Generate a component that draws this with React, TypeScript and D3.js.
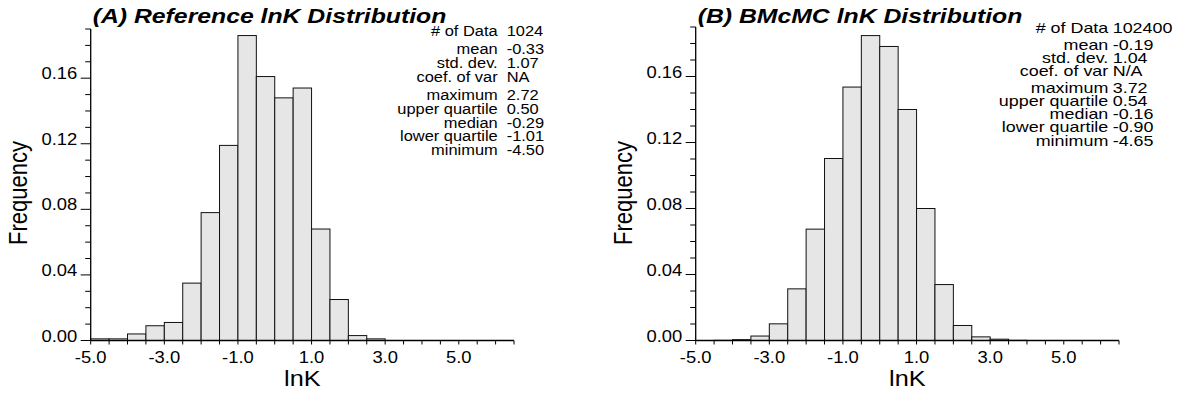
import React from 'react';
import * as d3 from 'd3';

// ---------- data ----------
const binStarts = [-5.0, -4.5, -4.0, -3.5, -3.0, -2.5, -2.0, -1.5, -1.0, -0.5, 0.0, 0.5, 1.0, 1.5, 2.0, 2.5, 3.0, 3.5];
const binWidth = 0.5;
const freqA = [0.001, 0.001, 0.004, 0.009, 0.011, 0.035, 0.078, 0.119, 0.186, 0.161, 0.148, 0.154, 0.068, 0.025, 0.003, 0.001, 0, 0];
const freqB = [0, 0.0001, 0.0005, 0.0027, 0.0101, 0.0313, 0.0675, 0.1103, 0.1536, 0.1848, 0.1782, 0.14, 0.08, 0.0339, 0.0091, 0.0022, 0.0008, 0.0001];
const xTickLabels = [-5.0, -3.0, -1.0, 1.0, 3.0, 5.0];
const xMinorTicks = [-5.0, -4.5, -4.0, -3.5, -3.0, -2.5, -2.0, -1.5, -1.0, -0.5, 0.0, 0.5, 1.0, 1.5, 2.0, 2.5, 3.0, 3.5, 4.0, 4.5, 5.0, 5.5, 6.0, 6.5];
const yTickLabels = [0.0, 0.04, 0.08, 0.12, 0.16];
const yMinorTicks = [0.0, 0.01, 0.02, 0.03, 0.04, 0.05, 0.06, 0.07, 0.08, 0.09, 0.1, 0.11, 0.12, 0.13, 0.14, 0.15, 0.16, 0.17, 0.18, 0.19];
const xDomain = [-5.0, 6.5];
const yDomain = [0, 0.19];
const statLabels = ['# of Data', 'mean', 'std. dev.', 'coef. of var', 'maximum', 'upper quartile', 'median', 'lower quartile', 'minimum'];
const statGroups = [0, 1, 1, 1, 2, 2, 2, 2, 2];
const statsA = ['1024', '-0.33', '1.07', 'NA', '2.72', '0.50', '-0.29', '-1.01', '-4.50'];
const statsB = ['102400', '-0.19', '1.04', 'N/A', '3.72', '0.54', '-0.16', '-0.90', '-4.65'];
const titleA = '(A) Reference lnK Distribution';
const titleB = '(B) BMcMC lnK Distribution';
const xLabel = 'lnK';
const yLabel = 'Frequency';

// ---------- layout / style ----------
const FONT = '"Liberation Sans", Arial, Helvetica, sans-serif';
const SX = 1.15;

const panels = [
  {
    title: titleA, freq: freqA, stats: statsA,
    x0: 90.7, x1: 514, yBottom: 340.5, yTop: 29,
    statX: 497.7, statGap: 9, statY0: 35.7, statLine: 13.7, statGroupGap: 4.8, statFont: 15.5, statSx: 1.06,
  },
  {
    title: titleB, freq: freqB, stats: statsB,
    x0: 695.7, x1: 1119, yBottom: 340.5, yTop: 27,
    statX: 1108.3, statGap: 4.4, statY0: 33.3, statLine: 13.3, statGroupGap: 3, statFont: 14, statSx: 1.28,
  },
];

function T({ x, y, sx = SX, rotate = 0, anchor = 'start', size, weight = 'normal', italic = false, children }: any) {
  return (
    <g transform={`translate(${x},${y}) scale(${sx},1)${rotate ? ` rotate(${rotate})` : ''}`}>
      <text
        textAnchor={anchor}
        fontFamily={FONT}
        fontSize={size}
        fontWeight={weight}
        fontStyle={italic ? 'italic' : 'normal'}
        fill="#000"
      >
        {children}
      </text>
    </g>
  );
}

function Panel({ p }: any) {
  const x = d3.scaleLinear().domain(xDomain).range([p.x0, p.x1]);
  const y = d3.scaleLinear().domain(yDomain).range([p.yBottom, p.yTop]);
  let statYs: number[] = [];
  let cur = p.statY0;
  statGroups.forEach((g, i) => {
    if (i > 0) cur += p.statLine + (g !== statGroups[i - 1] ? p.statGroupGap : 0);
    statYs.push(cur);
  });
  return (
    <g>
      {/* bars */}
      {binStarts.map((b, i) =>
        p.freq[i] > 0 ? (
          <rect
            key={i}
            x={x(b)}
            y={y(p.freq[i])}
            width={x(b + binWidth) - x(b)}
            height={y(0) - y(p.freq[i])}
            fill="#e6e6e6"
            stroke="#111"
            strokeWidth={1}
          />
        ) : null
      )}
      {/* axes */}
      <line x1={p.x0} x2={p.x0} y1={y(yDomain[1])} y2={y(0)} stroke="#000" strokeWidth={1.3} />
      <line x1={p.x0} x2={p.x1} y1={y(0)} y2={y(0)} stroke="#000" strokeWidth={1.3} />
      {yMinorTicks.map((t, i) => {
        const major = yTickLabels.some((v) => Math.abs(v - t) < 1e-9);
        return <line key={'ym' + i} x1={p.x0 - (major ? 10 : 5.5)} x2={p.x0} y1={y(t)} y2={y(t)} stroke="#000" strokeWidth={1} />;
      })}
      {yTickLabels.map((t, i) => (
        <T key={'yl' + i} x={p.x0 - 13.4} y={y(t) + 1} anchor="end" size={16}>{t.toFixed(2)}</T>
      ))}
      {xMinorTicks.map((t, i) => (
        <line key={'xm' + i} x1={x(t)} x2={x(t)} y1={y(0)} y2={y(0) + 4} stroke="#000" strokeWidth={1} />
      ))}
      {xTickLabels.map((t, i) => (
        <T key={'xl' + i} x={x(t)} y={y(0) + 22} anchor="middle" size={16}>{t.toFixed(1)}</T>
      ))}
      {/* axis labels */}
      <T x={(p.x0 + p.x1) / 2} y={385.5} anchor="middle" size={22}>{xLabel}</T>
      <T x={p.x0 - 64} y={193} anchor="middle" size={22} rotate={-90}>{yLabel}</T>
      {/* title */}
      <T x={p.x0 + 2} y={23.3} size={21} weight="bold" italic sx={1.18}>{p.title}</T>
      {/* stats */}
      {statLabels.map((l, i) => (
        <g key={'st' + i}>
          <T x={p.statX} y={statYs[i]} anchor="end" size={p.statFont} sx={p.statSx}>{l}</T>
          <T x={p.statX + p.statGap} y={statYs[i]} anchor="start" size={p.statFont} sx={p.statSx}>{p.stats[i]}</T>
        </g>
      ))}
    </g>
  );
}

export default function App() {
  return (
    <svg
      width={1179}
      height={396}
      viewBox="0 0 1179 396"
      style={{ position: 'absolute', left: 0, top: 0, display: 'block', background: '#fff' }}
    >
      <rect x={0} y={0} width={1179} height={396} fill="#fff" />
      {panels.map((p, i) => (
        <Panel key={i} p={p} />
      ))}
    </svg>
  );
}
